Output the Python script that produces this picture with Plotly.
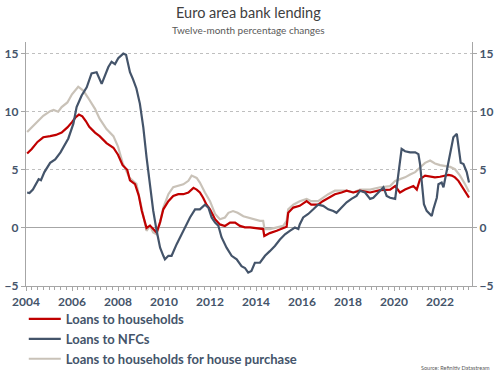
import plotly.graph_objects as go

# ---- data (fractional years, % yoy) ----
hh_t = [2004.05, 2004.25, 2004.5, 2004.75, 2005.05, 2005.3, 2005.55, 2005.8, 2006.0, 2006.15, 2006.3, 2006.45,
        2006.6, 2006.75, 2007.0, 2007.2, 2007.5, 2007.8, 2008.0, 2008.2, 2008.4, 2008.52, 2008.74, 2008.9,
        2009.03, 2009.15, 2009.24, 2009.39, 2009.53, 2009.68, 2009.83, 2009.97, 2010.19, 2010.4, 2010.62,
        2010.84, 2011.06, 2011.28, 2011.42, 2011.56, 2011.7, 2011.85, 2012.0, 2012.22, 2012.43, 2012.65,
        2012.87, 2013.09, 2013.3, 2013.52, 2013.74, 2013.95, 2014.17, 2014.31, 2014.36, 2014.6, 2014.9,
        2015.18, 2015.33, 2015.4, 2015.62, 2015.9, 2016.2, 2016.4, 2016.7, 2016.9, 2017.14, 2017.43,
        2017.72, 2017.94, 2018.23, 2018.52, 2018.96, 2019.4, 2019.83, 2020.05, 2020.2, 2020.26, 2020.48,
        2020.7, 2020.84, 2020.99, 2021.13, 2021.35, 2021.57, 2021.78, 2022.0, 2022.22, 2022.37, 2022.51,
        2022.65, 2022.8, 2022.95, 2023.09, 2023.26]
hh_v = [6.4, 6.8, 7.4, 7.8, 7.9, 8.0, 8.2, 8.65, 9.1, 9.5, 9.75, 9.6,
        9.2, 8.7, 8.2, 7.9, 7.3, 6.9, 6.3, 5.4, 5.0, 4.1, 3.76, 2.8,
        1.5, 0.6, 0.0, 0.2, -0.1, -0.4, 0.5, 1.6, 2.3, 2.75, 2.9,
        2.9, 3.05, 3.45, 3.3, 3.05, 2.6, 2.0, 1.6, 0.75, 0.3, 0.17,
        0.46, 0.46, 0.17, 0.05, 0.05, 0.0, -0.05, -0.1, -0.7, -0.45, -0.25,
        0.0, 0.1, 1.3, 1.75, 1.9, 2.3, 2.0, 2.0, 2.3, 2.6, 2.9,
        3.05, 3.2, 3.05, 3.2, 3.05, 3.25, 3.3, 3.6, 3.2, 3.05, 3.3,
        3.5, 3.6, 3.3, 4.2, 4.5, 4.4, 4.35, 4.4, 4.5, 4.57, 4.5,
        4.35, 4.05, 3.6, 3.2, 2.6]

nfc_t = [2004.05, 2004.15, 2004.3, 2004.55, 2004.65, 2004.8, 2005.05, 2005.27, 2005.5, 2005.62, 2005.84,
         2006.06, 2006.2, 2006.42, 2006.64, 2006.85, 2007.07, 2007.29, 2007.58, 2007.72, 2007.87, 2008.01,
         2008.23, 2008.35, 2008.52, 2008.65, 2008.8, 2008.95, 2009.1, 2009.24, 2009.39, 2009.53, 2009.68,
         2009.83, 2009.97, 2010.04, 2010.19, 2010.33, 2010.55, 2010.77, 2010.91, 2011.13, 2011.35, 2011.56,
         2011.78, 2011.93, 2012.07, 2012.22, 2012.36, 2012.5, 2012.72, 2012.94, 2013.16, 2013.37, 2013.52,
         2013.66, 2013.8, 2013.95, 2014.17, 2014.39, 2014.6, 2014.82, 2015.04, 2015.26, 2015.47, 2015.69,
         2015.84, 2015.9, 2016.05, 2016.27, 2016.49, 2016.7, 2016.92, 2017.14, 2017.36, 2017.5, 2017.72,
         2017.94, 2018.15, 2018.37, 2018.52, 2018.74, 2018.96, 2019.1, 2019.32, 2019.54, 2019.68, 2019.83,
         2020.05, 2020.12, 2020.23, 2020.33, 2020.48, 2020.7, 2020.92, 2021.06, 2021.13, 2021.2, 2021.3,
         2021.42, 2021.57, 2021.64, 2021.71, 2021.86, 2021.93, 2022.07, 2022.15, 2022.29, 2022.44, 2022.58,
         2022.73, 2022.8, 2022.9, 2023.02, 2023.16, 2023.26]
nfc_v = [3.05, 3.0, 3.3, 4.2, 4.1, 4.8, 5.6, 5.9, 6.5, 6.95, 7.7,
         8.97, 10.4, 11.4, 12.1, 13.3, 13.4, 12.4, 13.85, 14.3, 14.1, 14.6,
         15.0, 14.9, 13.4, 12.8, 12.0, 10.7, 8.65, 6.1, 3.8, 1.5, -0.25,
         -1.7, -2.4, -2.7, -2.4, -2.4, -1.4, -0.55, 0.0, 0.9, 1.6, 1.6,
         2.0, 1.75, 0.9, 0.46, 0.2, -0.8, -1.7, -2.4, -2.7, -3.3, -3.45,
         -3.85, -3.7, -3.0, -3.0, -2.4, -2.0, -1.55, -1.0, -0.55, -0.25, 0.03,
         -0.1, 0.3, 0.9, 1.2, 1.6, 2.0, 1.9, 1.6, 1.45, 1.3, 1.75,
         2.2, 2.5, 2.75, 3.2, 3.05, 2.5, 2.6, 3.05, 3.5, 2.75, 2.6,
         2.5, 3.5, 5.5, 6.8, 6.6, 6.5, 6.5, 6.35, 5.5, 3.76, 2.04,
         1.47, 1.2, 1.03, 1.6, 2.6, 3.76, 3.9, 3.5, 4.9, 6.35, 7.8,
         8.1, 7.2, 5.6, 5.5, 4.8, 3.9]

hp_t = [2004.05, 2004.45, 2004.75, 2005.05, 2005.2, 2005.4, 2005.55, 2005.8, 2006.0, 2006.27, 2006.5, 2006.7,
        2007.0, 2007.2, 2007.5, 2007.8, 2008.0, 2008.2, 2008.5, 2008.8, 2008.96, 2009.1, 2009.24, 2009.39,
        2009.53, 2009.68, 2009.83, 2009.97, 2010.19, 2010.4, 2010.62, 2010.84, 2011.06, 2011.2, 2011.42,
        2011.56, 2011.78, 2012.0, 2012.22, 2012.43, 2012.65, 2012.8, 2013.0, 2013.2, 2013.45, 2013.65,
        2013.95, 2014.17, 2014.31, 2014.37, 2014.6, 2014.9, 2015.18, 2015.33, 2015.4, 2015.62, 2015.9,
        2016.2, 2016.4, 2016.7, 2016.9, 2017.14, 2017.43, 2017.72, 2017.94, 2018.23, 2018.52, 2018.96,
        2019.4, 2019.83, 2020.05, 2020.26, 2020.48, 2020.7, 2020.92, 2021.13, 2021.35, 2021.57, 2021.78,
        2022.0, 2022.22, 2022.44, 2022.65, 2022.87, 2023.09, 2023.26]
hp_v = [8.25, 9.0, 9.65, 10.05, 10.15, 10.0, 10.4, 10.8, 11.5, 12.15, 11.8, 11.2,
        10.25, 9.4, 8.5, 7.9, 7.0, 5.6, 4.3, 3.8, 2.3, 1.0, -0.25, 0.17,
        -0.4, -0.55, 0.46, 1.75, 2.9, 3.5, 3.6, 3.75, 4.05, 4.5, 4.3,
        3.9, 3.05, 2.3, 1.2, 0.75, 0.9, 1.3, 1.45, 1.3, 1.0, 0.9,
        0.75, 0.6, 0.6, -0.1, -0.1, 0.03, 0.17, 0.6, 1.6, 2.0, 2.3,
        2.5, 2.3, 2.3, 2.6, 2.9, 3.2, 3.2, 3.2, 3.05, 3.3, 3.3,
        3.5, 3.6, 4.05, 4.2, 4.35, 4.6, 4.8, 5.2, 5.6, 5.8, 5.55,
        5.4, 5.35, 5.25, 5.05, 4.5, 3.76, 3.1]

year_ticks = [2004, 2006, 2008, 2010, 2012, 2014, 2016, 2018, 2020, 2022]
y_ticks = [-5, 0, 5, 10, 15]

RED = "#C00000"
NAVY = "#44546A"
BEIGE = "#C9C2B8"
TXT = "#44546A"
FONT = "Lato"

W, H = 497, 373
L, R, T, B = 26, 25, 42, 87
PW, PH = W - L - R, H - T - B


def px_x(x):
    return (x - L) / PW


def px_y(y):
    return (H - B - y) / PH


fig = go.Figure()
fig.add_trace(go.Scatter(x=hp_t, y=hp_v, mode="lines", name="Loans to households for house purchase",
                         line=dict(color=BEIGE, width=2.2), legendrank=3))
fig.add_trace(go.Scatter(x=hh_t, y=hh_v, mode="lines", name="Loans to households",
                         line=dict(color=RED, width=2.2), legendrank=1))
fig.add_trace(go.Scatter(x=nfc_t, y=nfc_v, mode="lines", name="Loans to NFCs",
                         line=dict(color=NAVY, width=2.2), legendrank=2))
# invisible copy to activate right axis
fig.add_trace(go.Scatter(x=nfc_t, y=nfc_v, mode="lines", yaxis="y2", showlegend=False,
                         hoverinfo="skip", line=dict(width=0), opacity=0))

fig.update_layout(
    width=W, height=H,
    margin=dict(l=L, r=R, t=T, b=B, autoexpand=False),
    paper_bgcolor="white", plot_bgcolor="white",
    font=dict(family=FONT, color=TXT),
    showlegend=True,
    legend=dict(x=-0.005, y=px_y(304), xanchor="left", yanchor="top", orientation="v",
                font=dict(size=13, color=TXT, family=FONT, weight="bold"),
                tracegroupgap=0, itemwidth=32, bgcolor="rgba(0,0,0,0)"),
    xaxis=dict(range=[2004, 2023.39], tickvals=year_ticks, ticktext=[str(v) for v in year_ticks],
               showgrid=False, zeroline=False, showline=True, linecolor="#A6A6A6", linewidth=1.3,
               ticks="outside", ticklen=4, tickcolor="#A6A6A6",
               minor=dict(dtick=0.25, tick0=2004, ticks="outside", ticklen=3, tickcolor="#A6A6A6", showgrid=False),
               tickfont=dict(size=12, color=TXT, family=FONT, weight="bold")),
    yaxis=dict(range=[-5, 16], tickvals=y_ticks, showgrid=True, gridcolor="#BFBFBF", griddash="dot",
               gridwidth=1, zeroline=True, zerolinecolor="#A6A6A6", zerolinewidth=1.3,
               showline=True, linecolor="#A6A6A6", linewidth=1.3, ticks="outside", ticklen=4,
               tickcolor="#A6A6A6",
               tickfont=dict(size=12, color=TXT, family=FONT, weight="bold")),
    yaxis2=dict(range=[-5, 16], tickvals=y_ticks, overlaying="y", side="right", showgrid=False,
                zeroline=False, showline=True, linecolor="#A6A6A6", linewidth=1.3, ticks="outside",
                ticklen=4, tickcolor="#A6A6A6",
                tickfont=dict(size=12, color=TXT, family=FONT, weight="bold")),
    annotations=[
        dict(text="Euro area bank lending", x=px_x(248.5), xref="paper", y=px_y(13), yref="paper",
             yanchor="middle", showarrow=False, font=dict(size=14.5, color="#404040", family=FONT)),
        dict(text="Twelve-month percentage changes", x=px_x(248.5), xref="paper", y=px_y(30), yref="paper",
             yanchor="middle", showarrow=False, font=dict(size=10, color="#595959", family=FONT)),
        dict(text="Source: Refinitiv Datastream", x=px_x(492), xref="paper", y=px_y(368), yref="paper",
             xanchor="right", yanchor="middle", showarrow=False,
             font=dict(size=5.5, color="#595959", family=FONT)),
    ],
)

fig.write_html("out.html", config={"displayModeBar": False})

# remove the default page margin so the figure starts at the window's corner
with open("out.html", "r", encoding="utf-8") as f:
    html = f.read()
html = html.replace("<head>", "<head><style>html,body{margin:0;padding:0;overflow:hidden;}</style>", 1)
with open("out.html", "w", encoding="utf-8") as f:
    f.write(html)
